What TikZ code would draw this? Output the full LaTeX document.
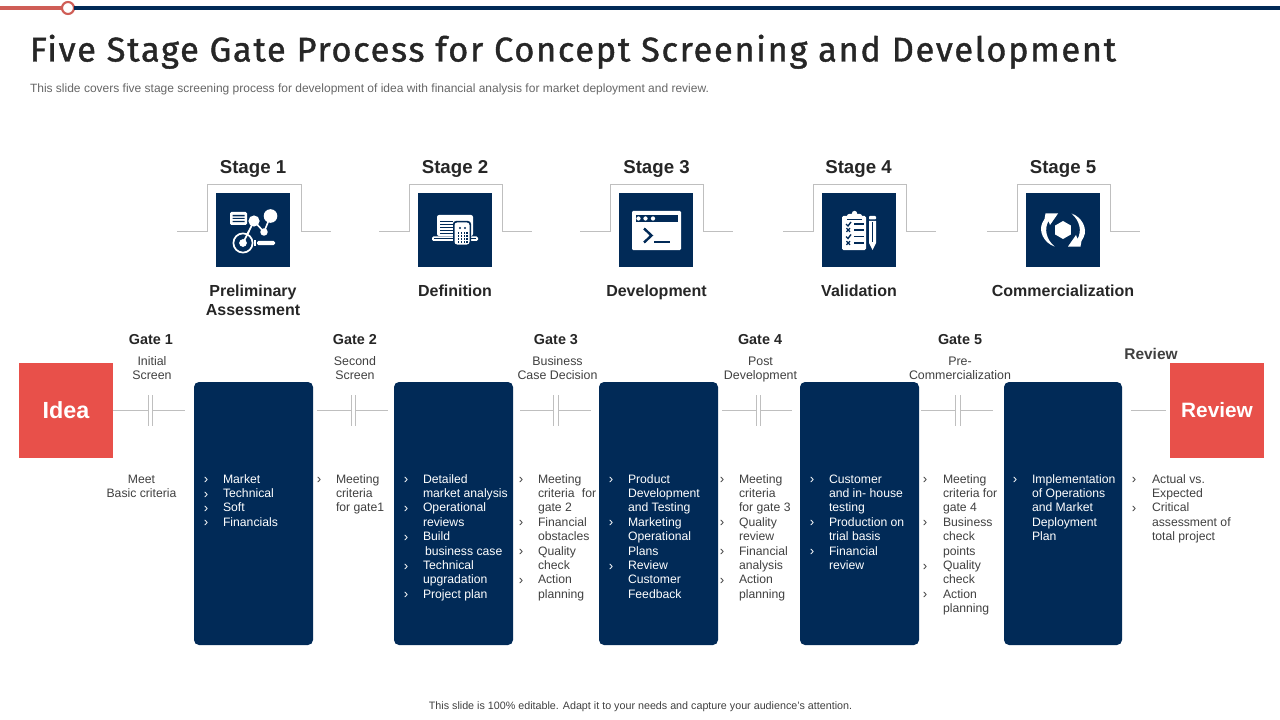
\documentclass[tikz,border=0pt]{standalone}
\usepackage{fontspec}
\setmainfont{Liberation Sans}
\newfontfamily\titlefont[LetterSpace=5,FakeBold=1.2]{Fira Sans}
\definecolor{navy}{HTML}{012A57}
\definecolor{redbox}{HTML}{E8504A}
\definecolor{redline}{HTML}{CF5D56}
\definecolor{rulegrey}{HTML}{BFBFBF}
\definecolor{bodygrey}{HTML}{404040}
\definecolor{subgrey}{HTML}{666666}
\definecolor{headdark}{HTML}{262626}
\tikzset{
 x=0.75pt,y=-0.75pt,
 every node/.style={inner sep=0pt,outer sep=0pt},
 iconbox/.style={fill=navy,draw=none,minimum width=55.5pt,minimum height=55.5pt},
 bracket/.style={draw=rulegrey,line width=0.6pt},
 wire/.style={draw=rulegrey,line width=0.75pt},
 stagehead/.style={font=\fontsize{14}{16}\selectfont\bfseries,text=headdark,anchor=base},
 stagename/.style={font=\fontsize{12}{14.4}\selectfont\bfseries,text=headdark,align=center},
 gatehead/.style={font=\fontsize{10.8}{13}\selectfont\bfseries,text=headdark},
 gatesub/.style={font=\fontsize{9.3}{10.6}\selectfont,text=bodygrey,align=center,anchor=north},
 listw/.style={font=\fontsize{9.15}{10.8}\selectfont,text=white,align=left,anchor=north west},
 listd/.style={font=\fontsize{9.15}{10.8}\selectfont,text=bodygrey,align=left,anchor=north west},
 bulw/.style={font=\fontsize{10}{10}\selectfont,text=white},
 buld/.style={font=\fontsize{10}{10}\selectfont,text=bodygrey},
 block/.style={fill=navy,rounded corners=3.75pt,minimum width=89.25pt,minimum height=197.25pt,anchor=north west},
 bigbox/.style={fill=redbox,minimum width=70.5pt,minimum height=71.25pt,text=white},
 icl/.style={draw=white,line width=1.2pt},
}
\newcommand{\stagepiece}[4]{% name, icon cx, bracket left, bracket right
 \node[iconbox] (icon#1) at (#2,230) {};
 \coordinate (bl#1) at (#3-30,231);
 \coordinate (br#1) at (#4+30,231);
 \coordinate (tl#1) at (#3,184);
 \coordinate (tr#1) at (#4,184);
 \draw[bracket] (bl#1) -- (#3,231) -- (tl#1) -- (tr#1) -- (#4,231) -- (br#1);
}
\newcommand{\gatebars}[5]{% name, left, bar1, bar2, right
 \coordinate (gs#1) at (#2,410);
 \coordinate (ge#1) at (#5,410);
 \coordinate (ba#1) at (#3,410);
 \coordinate (bb#1) at (#4,410);
 \draw[wire] (#3,395) -- (#3,426);
 \draw[wire] (#4,395) -- (#4,426);
 \draw[wire] (gs#1) -- (ba#1);
 \draw[wire] (bb#1) -- (ge#1);
}
\begin{document}
\begin{tikzpicture}
\useasboundingbox (0,0) rectangle (1280,720);
% top rule
\coordinate (rulea) at (0,8);
\coordinate (ruleb) at (1280,8);
\node[circle,draw=redline,fill=white,line width=1.6pt,minimum size=9pt] (dot) at (68,8) {};
\draw[redline,line width=2.3pt] (rulea) -- (dot);
\draw[navy,line width=2.3pt] (dot) -- (ruleb);
% title
\node[anchor=base west,font=\titlefont\fontsize{25.75}{30}\selectfont,text=headdark] (title) at (30,61.5) {Five Stage Gate Process for Concept Screening and Development};
\node[anchor=base west,font=\fontsize{9}{11}\selectfont,text=subgrey] (sub) at (30,92.5) {This slide covers five  stage screening process for development of idea with financial analysis for market deployment and review.};
% stages
\stagepiece{1}{253}{207}{301}
\stagepiece{2}{455}{409}{502}
\stagepiece{3}{656}{610}{703}
\stagepiece{4}{859}{813}{906}
\stagepiece{5}{1063}{1017}{1110}
\node[stagehead] (s1) at (253,173.5) {Stage 1};
\node[stagehead] (s2) at (455,173.5) {Stage 2};
\node[stagehead] (s3) at (656.5,173.5) {Stage 3};
\node[stagehead] (s4) at (858.5,173.5) {Stage 4};
\node[stagehead] (s5) at (1063,173.5) {Stage 5};
\node[stagename] (n1) at (253,300.3) {Preliminary\\Assessment};
\node[stagename,anchor=base] (n2) at (455,296.5) {Definition};
\node[stagename,anchor=base] (n3) at (656.5,296.5) {Development};
\node[stagename,anchor=base] (n4) at (859,296.5) {Validation};
\node[stagename,anchor=base] (n5) at (1063,296.5) {Commercialization};
% icon 1
\begin{scope}[shift={(216,193)}]
 \fill[white,rounded corners=1pt] (14,19) rectangle (31,32);
 \fill[navy] (16.5,22) rectangle (28.5,23.5) (16.5,25) rectangle (28.5,26) (16.5,28) rectangle (28.5,29.2);
 \draw[icl] (27,50) -- (38,28) -- (48,39) -- (54.5,23);
 \fill[white] (38,28) circle (4.2pt) (48,39) circle (2.8pt) (54.5,23) circle (5.1pt);
 \fill[navy] (27,50) circle (7.8pt);
 \draw[white,line width=1.3pt] (27,50) circle (7.2pt);
 \draw[icl] (27,50) -- (33,38);
 \fill[white] (27,50) circle (2.9pt);
 \fill[white] (38,47.5) rectangle (40,52.5);
 \fill[white,rounded corners=1pt] (41,48) rectangle (59,52);
\end{scope}
% icon 2
\begin{scope}[shift={(418,193)}]
 \fill[white,rounded corners=1.5pt] (19,22) rectangle (55,43);
 \foreach \k in {28,31,34,37,40}{\fill[navy] (22,\k) rectangle (35,\k+1.5);}
 \fill[white,rounded corners=1pt] (14,43.5) rectangle (60,48);
 \fill[navy] (16,45.2) rectangle (58,46.2);
 \fill[navy,rounded corners=2.2pt] (35,28) rectangle (53,53);
 \fill[white,rounded corners=2pt] (36.5,29.5) rectangle (51.5,51.5);
 \fill[navy] (42,35) circle (0.9pt) (47,35) circle (0.9pt);
 \foreach \a in {39.5,42.5,45.5,48}{\foreach \b in {39.5,42.5,45.5,48}{\fill[navy] (\a,\b) rectangle +(1.7,1.8);}}
\end{scope}
% icon 3
\begin{scope}[shift={(619,193)}]
 \fill[white,rounded corners=0.8pt] (13,18) rectangle (62,57);
 \fill[navy] (16.5,22) rectangle (59,29);
 \fill[white] (19.5,25.5) circle (1.6pt) (26.5,25.5) circle (1.6pt) (34,25.5) circle (1.6pt);
 \draw[navy,line width=1.8pt,line join=miter] (25,35.5) -- (32.5,42.5) -- (25,49.5);
 \draw[navy,line width=1.8pt] (35,49) -- (51,49);
\end{scope}
% icon 4
\begin{scope}[shift={(822,193)}]
 \fill[white,rounded corners=1pt] (20,23) rectangle (44,57);
 \fill[white,rounded corners=1.5pt] (25,21) rectangle (40,25.5);
 \fill[white] (32.5,20.5) circle (2pt);
 \draw[navy,line width=0.8pt] (25,26.5) -- (40,26.5);
 \foreach \k/\t in {31/0,37/1,43.5/0,50/1}{
   \draw[navy,line width=1.1pt] (32,\k) -- (42,\k);
   \ifnum\t=0 \draw[navy,line width=1pt] (24,\k) -- (26,\k+2) -- (29,\k-2);
   \else \draw[navy,line width=1pt] (24.5,\k-1.8) -- (28,\k+1.8) (28,\k-1.8) -- (24.5,\k+1.8);\fi
 }
 \fill[white,rounded corners=0.6pt] (47,23) rectangle (54,26.5);
 \fill[white] (47,28) -- (54,28) -- (54,50) -- (50.5,57) -- (47,50) -- cycle;
 \draw[navy,line width=0.6pt] (50.5,29) -- (50.5,49);
\end{scope}
% icon 5
\begin{scope}[shift={(1026,193)}]
 \fill[white] (37,28) -- (44.8,32.5) -- (44.8,41.5) -- (37,46) -- (29.2,41.5) -- (29.2,32.5) -- cycle;
 \fill[white] (28.5,53.5) .. controls (18,50) and (12,38) .. (16.5,29.5) -- (18.5,26) -- (19.5,20.5) -- (32,20.5) -- (24,32) -- (22.5,28) .. controls (18,36) and (20,46) .. (28.5,53.5) -- cycle;
 \begin{scope}[rotate around={180:(37,37)}]
 \fill[white] (28.5,53.5) .. controls (18,50) and (12,38) .. (16.5,29.5) -- (18.5,26) -- (19.5,20.5) -- (32,20.5) -- (24,32) -- (22.5,28) .. controls (18,36) and (20,46) .. (28.5,53.5) -- cycle;
 \end{scope}
\end{scope}
% gates
\node[bigbox,font=\fontsize{17.5}{20}\selectfont\bfseries] (idea) at (66,410.5) {Idea};
\node[bigbox,font=\fontsize{15.6}{20}\selectfont\bfseries] (review) at (1217,410) {Review};
\node[block] (b1) at (194,382) {};
\node[block] (b2) at (394,382) {};
\node[block] (b3) at (599,382) {};
\node[block] (b4) at (800,382) {};
\node[block,minimum width=88.5pt] (b5) at (1004,382) {};
\gatebars{1}{113}{148}{152}{185}
\gatebars{2}{317}{351.5}{355.5}{388}
\gatebars{3}{520}{553}{558}{591}
\gatebars{4}{722}{756}{760}{792}
\gatebars{5}{921}{955}{960}{993}
\coordinate (ga) at (1131,410);
\coordinate (gb) at (1166,410);
\draw[wire] (ga) -- (gb);
\node[gatehead] (g1) at (151,340) {Gate 1};
\node[gatehead] (g2) at (355,340) {Gate 2};
\node[gatehead] (g3) at (556,340) {Gate 3};
\node[gatehead] (g4) at (760,340) {Gate 4};
\node[gatehead] (g5) at (960,340) {Gate 5};
\node[gatehead,text=bodygrey,font=\fontsize{11.6}{13}\selectfont\bfseries] (g6) at (1151,354) {Review};
\node[gatesub] (t1) at (152,355.6) {\strut Initial\\Screen};
\node[gatesub] (t2) at (355,355.6) {\strut Second\\Screen};
\node[gatesub] (t3) at (557.5,355.6) {\strut Business\\Case Decision};
\node[gatesub] (t4) at (760.5,355.6) {\strut Post\\Development};
\node[gatesub] (t5) at (960,355.6) {\strut Pre-\\Commercialization};
% lists
\node[listd,align=center,anchor=north] (l0) at (141.5,473) {\strut Meet\\Basic criteria};
\node[listw] (l1) at (223,473) {\strut Market\\Technical\\Soft\\Financials};
\node[listd] (l2) at (336,473) {\strut Meeting\\criteria\\for gate1};
\node[listw] (l3) at (423,473) {\strut Detailed\\market analysis\\Operational\\reviews\\Build\\\hspace*{1.5pt}business case\\Technical\\upgradation\\Project plan};
\node[listd] (l4) at (538,473) {\strut Meeting\\criteria\hspace{3pt} for\\gate 2\\Financial\\obstacles\\Quality\\check\\Action\\planning};
\node[listw] (l5) at (628,473) {\strut Product\\Development\\and Testing\\Marketing\\Operational\\Plans\\Review\\Customer\\Feedback};
\node[listd] (l6) at (739,473) {\strut Meeting\\criteria\\for gate 3\\Quality\\review\\Financial\\analysis\\Action\\planning};
\node[listw] (l7) at (829,473) {\strut Customer\\and in- house\\testing\\Production on\\trial basis\\Financial\\review};
\node[listd] (l8) at (943,473) {\strut Meeting\\criteria for\\gate 4\\Business\\check\\points\\Quality\\check\\Action\\planning};
\node[listw] (l9) at (1032,473) {\strut Implementation\\of Operations\\and Market\\Deployment\\Plan};
\node[listd] (l10) at (1152,473) {\strut Actual vs.\\Expected\\Critical\\assessment of\\total project};
\foreach \nm/\st/\bx/\rows in {a/bulw/206/{0,1,2,3},b/buld/319/{0},c/bulw/406/{0,2,4,6,8},d/buld/521/{0,3,5,7},e/bulw/611/{0,3,6},f/buld/722/{0,3,5,7},g/bulw/812/{0,3,5},h/buld/925/{0,3,6,8},i/bulw/1015/{0},j/buld/1134/{0,2}}{
  \foreach \r in \rows {
    \node[\st] (bul\nm\r) at (\bx,480.7+14.4*\r) {›};
  }
}
\node[font=\fontsize{8.05}{10}\selectfont,text=bodygrey] (foot) at (640.5,707) {This slide is 100\% editable.  Adapt it to your needs and capture your audience's attention.};
\end{tikzpicture}
\end{document}
